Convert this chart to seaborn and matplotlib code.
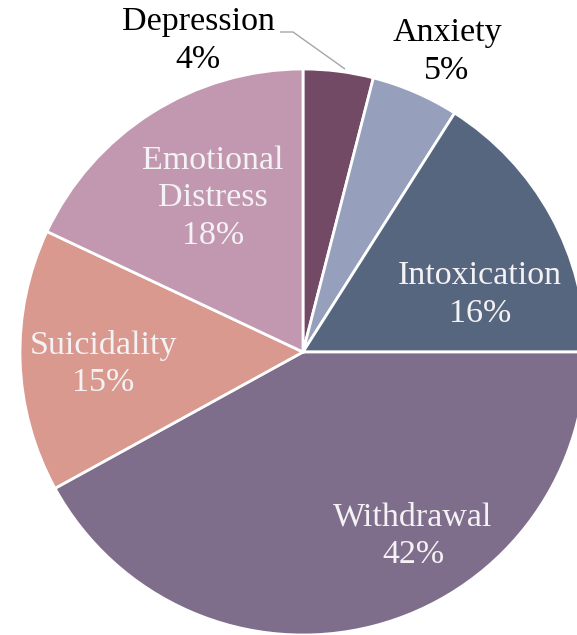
import matplotlib
matplotlib.use("Agg")
import matplotlib.pyplot as plt
import seaborn as sns

# Share of cases by presenting category
categories = ["Depression", "Anxiety", "Intoxication", "Withdrawal", "Suicidality", "Emotional\nDistress"]
shares = [4, 5, 16, 42, 15, 18]
colors = ["#734A66", "#96A0BD", "#57667F", "#7F6E8B", "#D9998E", "#C198B0"]
inside = [False, False, True, True, True, True]

sns.set_theme(style="white")
plt.rcParams["font.family"] = ["Liberation Serif", "DejaVu Serif"]

W, H = 577, 635
fig = plt.figure(figsize=(W / 100, H / 100), dpi=100)
ax = fig.add_axes([0, 0, 1, 1])

cx, cy, r = 303, H - 352, 283
ax.pie(shares, colors=colors, startangle=90, counterclock=False,
       center=(cx, cy), radius=r, frame=True,
       wedgeprops=dict(edgecolor="white", linewidth=2.0))
ax.set_xlim(0, W)
ax.set_ylim(0, H)
ax.set_aspect("equal")
ax.axis("off")

# label anchor points (pixel coords from top-left)
label_pos = [(198, 41), (447, 52), (480, 295), (413, 536), (103, 364), (213, 198)]
for cat, val, (px, py), ins in zip(categories, shares, label_pos, inside):
    ax.text(px, H - py, f"{cat}\n{val}%", ha="center", va="center",
            multialignment="center", fontsize=24.5, linespacing=1.3,
            color="#F4F2F4" if ins else "black")

# leader line for the Depression label
ax.plot([280, 293, 345], [H - 32, H - 32, H - 69], color="#A6A6A6", lw=1.0,
        solid_capstyle="butt")

fig.savefig("out.png", dpi=100)
